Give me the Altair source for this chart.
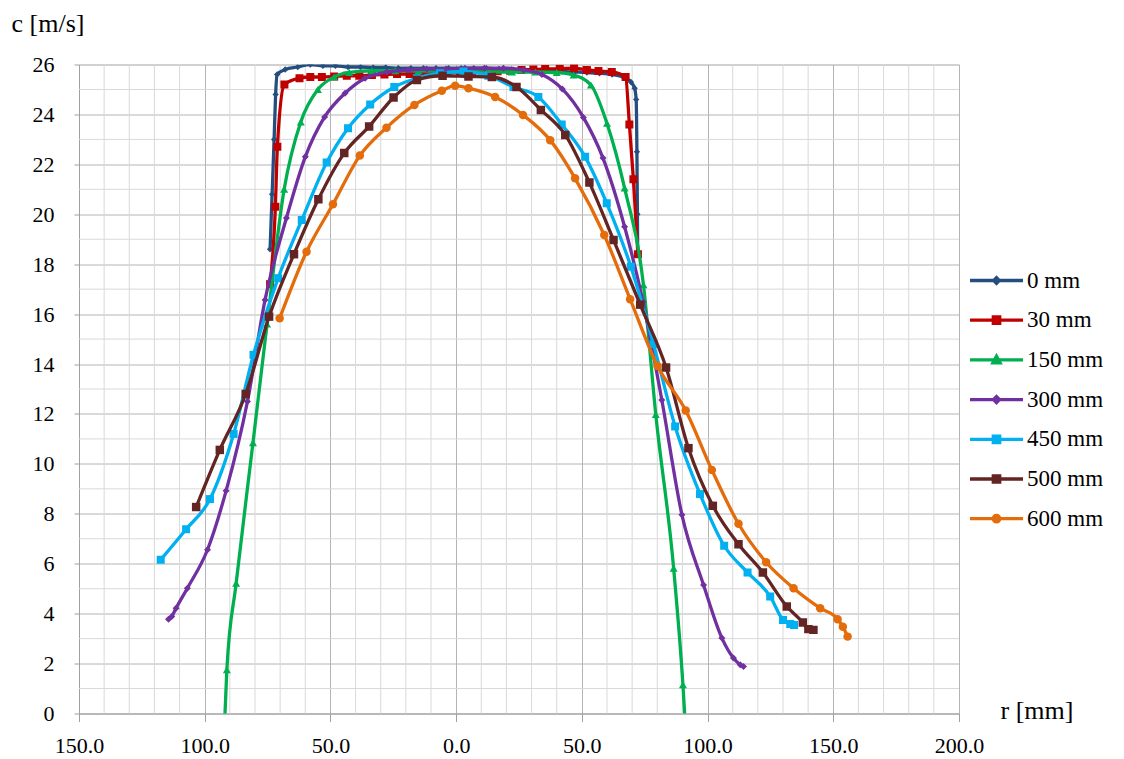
import altair as alt
import pandas as pd

# ---------------- data ----------------
series_names = ["0 mm", "30 mm", "150 mm", "300 mm", "450 mm", "500 mm", "600 mm"]
series_colors = ["#244E7F", "#C00000", "#00B050", "#7030A0", "#00B0F0", "#632523", "#E46C0A"]

r_0 = [-74.0, -73.2, -72.4, -71.8, -71.2, -68.0, -63.0, -58.0, -53.0, -48.0, -43.0, -38.0, -33.0,
       -28.0, -23.0, -18.0, -13.0, -8.0, -3.0, 2.0, 7.0, 12.0, 17.0, 22.0, 27.0, 32.0, 37.0, 42.0,
       47.0, 52.0, 57.0, 62.0, 66.5, 69.5, 71.0, 71.6, 71.9, 72.1, 72.2]
c_0 = [18.6, 20.8, 23.0, 24.8, 25.6, 25.8, 25.9, 26.0, 25.95, 25.95, 25.9, 25.9, 25.88,
       25.88, 25.85, 25.85, 25.85, 25.85, 25.85, 25.85, 25.85, 25.85, 25.82, 25.8, 25.8, 25.78, 25.75, 25.72,
       25.7, 25.68, 25.65, 25.6, 25.5, 25.3, 25.05, 24.6, 22.5, 20.0, 18.5]

r_30 = [-74.0, -71.9, -71.1, -68.3, -62.3, -58.0, -53.4, -48.5, -43.5, -38.5, -33.5, -28.5, -23.5,
        -18.5, -13.5, -8.5, -3.5, 1.5, 6.5, 11.5, 16.5, 21.5, 26.0, 30.7, 35.4, 41.2, 46.9, 52.0,
        56.6, 61.9, 67.4, 68.9, 70.5, 72.3]
c_30 = [17.2, 20.3, 22.7, 25.2, 25.45, 25.5, 25.5, 25.52, 25.55, 25.55, 25.58, 25.6, 25.62,
        25.62, 25.65, 25.65, 25.68, 25.7, 25.7, 25.72, 25.73, 25.75, 25.78, 25.8, 25.82, 25.83, 25.85, 25.78,
        25.74, 25.7, 25.5, 23.6, 21.4, 18.4]

r_150 = [-92.6, -91.2, -87.5, -80.8, -75.2, -68.4, -61.8, -55.0, -48.5, -42.5, -33.5, -24.2, -15.0,
         -5.7, 3.6, 12.9, 22.2, 31.5, 40.0, 46.7, 53.6, 60.0, 67.0, 74.5, 79.4, 86.5, 90.2, 91.6]
c_150 = [-1.6, 1.75, 5.22, 10.85, 15.6, 21.0, 23.7, 25.0, 25.5, 25.68, 25.75, 25.75, 25.75,
         25.72, 25.7, 25.7, 25.7, 25.7, 25.68, 25.58, 25.18, 23.64, 21.05, 17.17, 11.98, 5.82, 1.15, -1.2]

r_300 = [-114.4, -113.1, -111.4, -106.9, -98.9, -91.5, -83.0, -76.0, -67.5, -60.0, -52.3, -44.2, -36.2,
         -27.6, -19.0, -11.7, -4.0, 3.5, 11.2, 18.8, 26.8, 34.1, 42.2, 50.6, 58.4, 67.0, 74.3, 81.8,
         89.8, 98.4, 105.7, 110.3, 113.0, 114.3]
c_300 = [3.78, 3.89, 4.22, 5.02, 6.56, 8.92, 12.5, 16.57, 19.85, 22.3, 23.9, 24.85, 25.45,
         25.7, 25.78, 25.82, 25.82, 25.85, 25.85, 25.85, 25.78, 25.6, 25.02, 23.88, 22.25, 19.5, 16.5, 12.56,
         7.96, 5.15, 3.02, 2.22, 1.95, 1.88]

r_450 = [-117.5, -107.4, -97.9, -88.5, -80.6, -70.8, -61.4, -51.5, -43.0, -34.2, -24.6, -15.6, -6.4,
         2.9, 12.8, 22.8, 32.7, 42.0, 51.3, 59.9, 69.5, 78.5, 87.1, 97.0, 106.6, 115.9, 124.9, 130.0,
         132.9, 134.4]
c_450 = [6.16, 7.38, 8.59, 11.2, 14.37, 17.44, 19.77, 22.07, 23.45, 24.4, 25.1, 25.45, 25.65,
         25.72, 25.55, 25.1, 24.7, 23.6, 22.3, 20.44, 17.9, 14.8, 11.5, 8.79, 6.72, 5.65, 4.69, 3.75,
         3.59, 3.55]

r_500 = [-103.4, -94.0, -83.7, -74.4, -64.5, -54.8, -44.5, -34.6, -24.9, -15.6, -5.4, 4.9, 14.2,
         24.0, 33.7, 43.4, 53.0, 62.6, 73.2, 83.5, 92.4, 102.1, 112.3, 122.0, 131.5, 137.9, 140.1, 142.1]
c_500 = [8.27, 10.56, 12.8, 15.9, 18.4, 20.6, 22.45, 23.52, 24.68, 25.38, 25.55, 25.52, 25.5,
         25.1, 24.18, 23.18, 21.27, 18.97, 16.38, 13.86, 10.63, 8.32, 6.78, 5.65, 4.29, 3.65, 3.38, 3.35]

r_600 = [-70.2, -59.5, -49.0, -38.3, -27.7, -16.6, -5.7, -0.4, 4.9, 15.5, 26.6, 37.4, 47.3,
         58.9, 69.2, 80.1, 91.3, 101.7, 112.3, 123.3, 134.2, 144.8, 151.7, 153.8, 155.7]
c_600 = [15.83, 18.5, 20.4, 22.35, 23.47, 24.38, 24.95, 25.15, 25.05, 24.7, 23.98, 22.97, 21.44,
         19.17, 16.6, 13.92, 12.14, 9.76, 7.6, 6.06, 5.02, 4.22, 3.78, 3.48, 3.08]

x_major = [-150, -100, -50, 0, 50, 100, 150, 200]
x_minor = [v for v in range(-150, 201, 10) if v % 50 != 0]
y_major = list(range(0, 27, 2))
y_minor = list(range(1, 26, 2))

series_r = [r_0, r_30, r_150, r_300, r_450, r_500, r_600]
series_c = [c_0, c_30, c_150, c_300, c_450, c_500, c_600]

# ---------------- style ----------------
FONT = "Liberation Serif, DejaVu Serif, Liberation Sans, serif"
MAJOR = "#b4b4b4"
MINOR = "#d9d9d9"
AXISC = "#a0a0a0"
marker_shape = ["diamond", "square", "triangle-up", "diamond", "square", "square", "circle"]
marker_size = [40, 64, 64, 49, 64, 72, 72]

legend_paths = [
    "M-2.65,0H2.65M0,-0.28L0.28,0L0,0.28L-0.28,0Z",
    "M-2.65,0H2.65M-0.32,-0.32H0.32V0.32H-0.32Z",
    "M-2.65,0H2.65M0,-0.36L0.36,0.3L-0.36,0.3Z",
    "M-2.65,0H2.65M0,-0.3L0.3,0L0,0.3L-0.3,0Z",
    "M-2.65,0H2.65M-0.32,-0.32H0.32V0.32H-0.32Z",
    "M-2.65,0H2.65M-0.32,-0.32H0.32V0.32H-0.32Z",
    "M-2.65,0H2.65M-0.32,0A0.32,0.32 0 1,0 0.32,0A0.32,0.32 0 1,0 -0.32,0Z",
]

rows = []
for name, rs, cs in zip(series_names, series_r, series_c):
    for i, (r, c) in enumerate(zip(rs, cs)):
        rows.append({"series": name, "r": r, "c": c, "i": i})
df = pd.DataFrame(rows)

xscale = alt.Scale(domain=[-150, 200], nice=False, zero=False)
yscale = alt.Scale(domain=[0, 26], nice=False, zero=False)

xaxis = alt.Axis(
    values=x_major, labelExpr="format(abs(datum.value), '.1f')",
    grid=True, gridColor=MAJOR, gridWidth=1,
    domainColor=AXISC, domainWidth=1, tickColor=AXISC, tickSize=8, tickWidth=1,
    labelFont=FONT, labelFontSize=22, labelColor="black", labelPadding=14, labelFlush=False,
    labelOverlap=False,
    title="r [mm]", titleFont=FONT, titleFontSize=26, titleFontWeight="normal", titleColor="black",
    titleAngle=0, titleAlign="left", titleBaseline="alphabetic", titleX=921, titleY=5,
)
yaxis = alt.Axis(
    values=y_major, format="d",
    grid=True, gridColor=MAJOR, gridWidth=1,
    domainColor=AXISC, domainWidth=1, tickColor=AXISC, tickSize=5, tickWidth=1,
    labelFont=FONT, labelFontSize=22, labelColor="black", labelPadding=20, labelOverlap=False,
    title="c [m/s]", titleFont=FONT, titleFontSize=26, titleFontWeight="normal", titleColor="black",
    titleAngle=0, titleAlign="left", titleBaseline="alphabetic", titleX=-68, titleY=-33,
)

x_enc = alt.X("r:Q", scale=xscale, axis=xaxis)
y_enc = alt.Y("c:Q", scale=yscale, axis=yaxis)

minor_x = alt.Chart(pd.DataFrame({"r": x_minor})).mark_rule(color=MINOR, strokeWidth=1).encode(x=x_enc)
minor_y = alt.Chart(pd.DataFrame({"c": y_minor})).mark_rule(color=MINOR, strokeWidth=1).encode(y=y_enc)

layers = [minor_x, minor_y]
for k, name in enumerate(series_names):
    base = alt.Chart(df).transform_filter(alt.datum.series == name)
    line = base.mark_line(color=series_colors[k], strokeWidth=3.3, interpolate="monotone", clip=True).encode(
        x=x_enc, y=y_enc, order="i:Q")
    pts = base.mark_point(shape=marker_shape[k], filled=True, size=marker_size[k], opacity=1,
                          color=series_colors[k], clip=True).encode(x=x_enc, y=y_enc)
    layers += [line, pts]

leg = alt.Legend(
    title=None, orient="none", legendX=905.5, legendY=204, padding=0,
    labelFont=FONT, labelFontSize=23, labelColor="black", labelOffset=18.5,
    rowPadding=15.7, symbolSize=400, symbolStrokeWidth=3.3, symbolOpacity=1, labelLimit=200,
)
legend_layer = alt.Chart(df).transform_filter("false").mark_point(
    filled=True, opacity=1, size=400, strokeWidth=3.3).encode(
    x=x_enc, y=y_enc,
    fill=alt.Fill("series:N", scale=alt.Scale(domain=series_names, range=series_colors), legend=leg),
    stroke=alt.Stroke("series:N", scale=alt.Scale(domain=series_names, range=series_colors), legend=leg),
    shape=alt.Shape("series:N", scale=alt.Scale(domain=series_names, range=legend_paths), legend=leg),
)
layers.append(legend_layer)

chart = alt.layer(*layers).properties(
    width=880, height=649,
    autosize=alt.AutoSizeParams(type="none"),
    padding={"left": 71, "top": 56.5, "right": 157, "bottom": 45},
).configure_view(stroke=None).configure(background="white")

chart.save("out.html", embed_options={"renderer": "svg", "actions": False})
